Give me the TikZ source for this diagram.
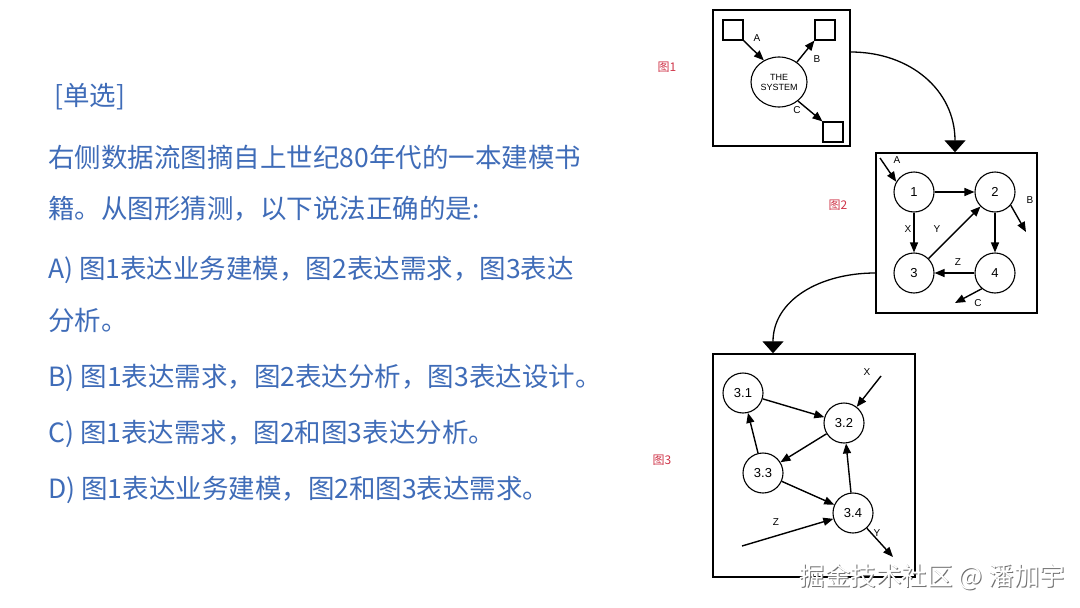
\documentclass[tikz,border=0pt]{standalone}
\usepackage{fontspec}
\setmainfont{Liberation Sans}
\newfontfamily\cjk{Noto Sans CJK SC}
\usetikzlibrary{arrows.meta,shapes.geometric}
\definecolor{qblue}{HTML}{3F6CB8}
\definecolor{lblred}{HTML}{D0364A}
\definecolor{wmgray}{HTML}{707070}
\begin{document}
\begin{tikzpicture}[x=1pt,y=-1pt,
  qtext/.style={anchor=west,inner sep=0pt,text=qblue,font=\cjk\fontsize{26.5}{31}\selectfont},
  figlbl/.style={inner sep=0pt,text=lblred,font=\cjk\fontsize{12}{14}\selectfont},
  frame/.style={draw,line width=1.4pt},
  sq/.style={draw,line width=1.1pt,minimum width=20pt,minimum height=20pt,inner sep=0pt},
  proc/.style={draw,circle,line width=1.1pt,minimum size=40pt,inner sep=0pt,font=\fontsize{13}{15}\selectfont},
  flow/.style={line width=1.4pt,-{Triangle[length=10pt,width=8pt]}},
  flbl/.style={inner sep=0pt,font=\fontsize{10}{11}\selectfont},
  bigarrow/.style={line width=1.3pt,-{Triangle[length=12pt,width=21pt]}}]
\useasboundingbox (0,0) rectangle (1080,608);
\fill[white] (0,0) rectangle (1080,608);

% ---------- question text ----------
\node[qtext] (t0) at (54,97) {[单选]};
\node[qtext] (t1) at (48,157) {右侧数据流图摘自上世纪80年代的一本建模书};
\node[qtext] (t2) at (48,209) {籍。从图形猜测，以下说法正确的是:};
\node[qtext] (ta) at (48,270) {A) 图1表达业务建模，图2表达需求，图3表达};
\node[qtext] (ta2) at (48,320) {分析。};
\node[qtext] (tb) at (48,378) {B) 图1表达需求，图2表达分析，图3表达设计。};
\node[qtext] (tc) at (48,434) {C) 图1表达需求，图2和图3表达分析。};
\node[qtext] (td) at (48,490) {D) 图1表达业务建模，图2和图3表达需求。};

% ---------- labels ----------
\node[figlbl] (l1) at (667,67) {图1};
\node[figlbl] (l2) at (838,205) {图2};
\node[figlbl] (l3) at (662,460) {图3};

% ---------- figure 1 ----------
\node[frame,minimum width=137pt,minimum height=136pt,inner sep=0pt] (f1) at (781.5,78) {};
\node[sq] (s1) at (733,30) {};
\node[sq] (s2) at (825,30) {};
\node[sq] (s3) at (833,132) {};
\node[draw,ellipse,line width=1.1pt,minimum width=56pt,minimum height=50pt,inner sep=0pt,align=center,font=\fontsize{9}{10}\selectfont] (sys) at (779,82) {THE\\SYSTEM};
\draw[flow] (s1.south east) -- (sys.125);
\draw[flow] (sys.48) -- (s2.south west);
\draw[flow] (sys.-45) -- (s3.north west);
\node[flbl] (la) at (757,38) {A};
\node[flbl] (lb) at (817,59) {B};
\node[flbl] (lc) at (797,110) {C};

% ---------- figure 2 ----------
\node[frame,minimum width=161pt,minimum height=160pt,inner sep=0pt] (f2) at (956.5,233) {};
\node[proc] (n1) at (914,192) {1};
\node[proc] (n2) at (995,192) {2};
\node[proc] (n3) at (914,273) {3};
\node[proc] (n4) at (995,273) {4};
\coordinate (ain) at (880,158);
\coordinate (bout) at (1026,232);
\coordinate (cout) at (955,303);
\draw[flow] (n1) -- (n2);
\draw[flow] (n1) -- (n3);
\draw[flow] (n3) -- (n2);
\draw[flow] (n2) -- (n4);
\draw[flow] (n4) -- (n3);
\draw[flow] (ain) -- (n1.150);
\draw[flow] (n2.-40) -- (bout);
\draw[flow] (n4.-130) -- (cout);
\node[flbl] (l2a) at (897,160) {A};
\node[flbl] (l2b) at (1030,200) {B};
\node[flbl] (l2c) at (978,303) {C};
\node[flbl] (l2x) at (908,229) {X};
\node[flbl] (l2y) at (937,229) {Y};
\node[flbl] (l2z) at (958,262) {Z};

% ---------- figure 3 ----------
\node[frame,minimum width=202pt,minimum height=223pt,inner sep=0pt] (f3) at (814,465.5) {};
\node[proc] (m1) at (743,393) {3.1};
\node[proc] (m2) at (844,423) {3.2};
\node[proc] (m3) at (763,473) {3.3};
\node[proc] (m4) at (853,513) {3.4};
\coordinate (xin) at (881,376);
\coordinate (zin) at (742,546);
\coordinate (yout) at (893,557);
\draw[flow] (m1) -- (m2);
\draw[flow] (m2) -- (m3);
\draw[flow] (m3) -- (m1);
\draw[flow] (m3) -- (m4);
\draw[flow] (m4) -- (m2);
\draw[flow] (xin) -- (m2);
\draw[flow] (zin) -- (m4);
\draw[flow] (m4) -- (yout);
\node[flbl] (l3x) at (867,372) {X};
\node[flbl] (l3z) at (776,522) {Z};
\node[flbl] (l3y) at (877,533) {Y};

% ---------- connecting curves ----------
\coordinate (c1s) at (f1.east |- 0,52);
\coordinate (c1e) at (f2.north -| 955,0);
\draw[bigarrow] (c1s) .. controls (910,52) and (955,90) .. (c1e);
\coordinate (c2s) at (f2.west |- 0,273);
\coordinate (c2e) at (f3.north -| 773,0);
\draw[bigarrow] (c2s) .. controls (820,273) and (773,300) .. (c2e);

% ---------- watermark ----------
\node[inner sep=0pt,text=wmgray,font=\cjk\fontsize{25.5}{30}\selectfont] (wms) at (933.5,577.5) {掘金技术社区 @ 潘加宇};
\node[inner sep=0pt,text=white,font=\cjk\fontsize{25.5}{30}\selectfont] (wm) at (932.5,576.5) {掘金技术社区 @ 潘加宇};
\end{tikzpicture}
\end{document}
